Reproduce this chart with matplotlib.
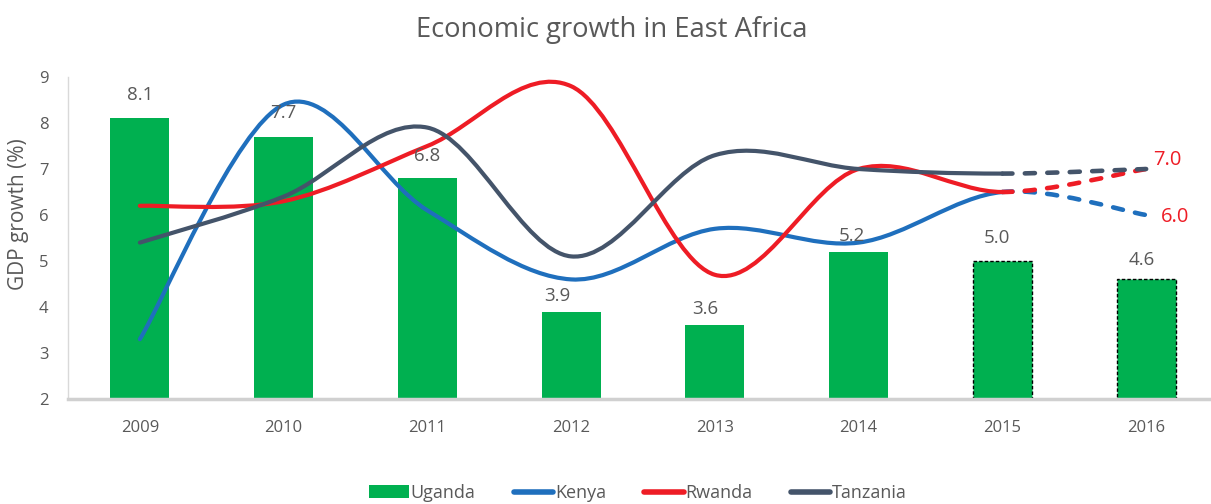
import matplotlib
matplotlib.use('Agg')
import matplotlib.pyplot as plt
import numpy as np
from matplotlib.path import Path
from matplotlib.patches import PathPatch, Patch
from matplotlib.lines import Line2D

plt.rcParams['font.family'] = ['Open Sans', 'DejaVu Sans']

years = ['2009', '2010', '2011', '2012', '2013', '2014', '2015', '2016']
uganda = [8.1, 7.7, 6.8, 3.9, 3.6, 5.2, 5.0, 4.6]
kenya = [3.3, 8.4, 6.1, 4.6, 5.7, 5.4, 6.5, 6.0]
rwanda = [6.2, 6.3, 7.5, 8.8, 4.7, 7.0, 6.5, 7.0]
tanzania = [5.4, 6.4, 7.9, 5.1, 7.3, 7.0, 6.9, 7.0]
n_actual = 6  # 2015 and 2016 are projections

# hand-placed offsets (points) of the bar value labels
lbl_dx = [0, 0, 0, -10, -7, -5, -4, -3]
lbl_dy = [17, 17, 16, 11, 11.5, 11.5, 16.5, 14]

GREEN = '#00b050'
BLUE = '#1f6fbd'
RED = '#ee1c25'
SLATE = '#44546a'
TXT = '#595959'


def smooth_path(xs, ys, seg_from, seg_to):
    '''Bezier path through the points (Catmull-Rom style smoothing).'''
    pts = np.column_stack([xs, ys]).astype(float)
    n = len(pts)
    verts = [pts[seg_from]]
    codes = [Path.MOVETO]
    for i in range(seg_from, seg_to):
        p0 = pts[max(i - 1, 0)]
        p1 = pts[i]
        p2 = pts[i + 1]
        p3 = pts[min(i + 2, n - 1)]
        c1 = p1 + (p2 - p0) / 6.0
        c2 = p2 - (p3 - p1) / 6.0
        verts += [c1, c2, p2]
        codes += [Path.CURVE4] * 3
    return Path(verts, codes)


fig = plt.figure(figsize=(12.11, 5.04), dpi=100)
ax = fig.add_axes([68 / 1211, 105 / 504, 1150 / 1211, 322 / 504])

x = np.arange(len(years))
bars = ax.bar(x, uganda, width=0.41, bottom=0, color=GREEN, zorder=2)
for i, b in enumerate(bars):
    if i >= n_actual:
        b.set_edgecolor('black')
        b.set_linestyle((0, (2.5, 1.5)))
        b.set_linewidth(1.0)
for xi, v, dx, dy in zip(x, uganda, lbl_dx, lbl_dy):
    ax.annotate('%.1f' % v, (xi, v), xytext=(dx, dy), textcoords='offset points',
                ha='center', va='center', fontsize=13.5, color=TXT, zorder=5)

for vals, col in [(kenya, BLUE), (rwanda, RED), (tanzania, SLATE)]:
    solid = smooth_path(x, vals, 0, n_actual)
    dashed = smooth_path(x, vals, n_actual, len(x) - 1)
    ax.add_patch(PathPatch(solid, fill=False, edgecolor=col, lw=3,
                           capstyle='round', joinstyle='round', zorder=3))
    ax.add_patch(PathPatch(dashed, fill=False, edgecolor=col, lw=3.3,
                           linestyle=(0, (2.2, 2.7)), capstyle='round', zorder=3))

# projected end values
ax.text(x[-1] + 0.05, rwanda[-1] + 0.2, '%.1f' % rwanda[-1], color=RED,
        fontsize=14.5, ha='left', va='center', zorder=5)
ax.text(x[-1] + 0.1, kenya[-1] - 0.05, '%.1f' % kenya[-1], color=RED,
        fontsize=14.5, ha='left', va='center', zorder=5)

ax.set_xlim(-0.5, 7.5)
ax.set_ylim(2, 9)
ax.set_xticks(x)
ax.set_xticklabels(years)
ax.set_yticks(range(2, 10))
ax.tick_params(axis='both', length=0, labelsize=12, labelcolor=TXT)
ax.tick_params(axis='x', pad=15)
ax.tick_params(axis='y', pad=14)
for s in ['top', 'right']:
    ax.spines[s].set_visible(False)
ax.spines['left'].set_color('#d9d9d9')
ax.spines['left'].set_linewidth(1.0)
ax.spines['bottom'].set_color('#d0d0d0')
ax.spines['bottom'].set_linewidth(2.5)
ax.set_ylabel('GDP growth (%)', fontsize=15, color=TXT)
ax.yaxis.set_label_coords(-0.034, 0.575)

fig.text(0.505, 0.94, 'Economic growth in East Africa', ha='center',
         va='center', fontsize=19.7, color=TXT)

handles = [Patch(facecolor=GREEN, edgecolor='none'),
           Line2D([], [], color=BLUE, lw=4, solid_capstyle='round'),
           Line2D([], [], color=RED, lw=4, solid_capstyle='round'),
           Line2D([], [], color=SLATE, lw=4, solid_capstyle='round')]
fig.legend(handles, ['Uganda', 'Kenya', 'Rwanda', 'Tanzania'],
           loc='center', bbox_to_anchor=(0.527, 0.022), ncol=4, frameon=False,
           fontsize=13, labelcolor=TXT, handlelength=2.2, handleheight=0.7,
           handletextpad=0.1, columnspacing=2.1)

fig.savefig('out.png', dpi=100)
